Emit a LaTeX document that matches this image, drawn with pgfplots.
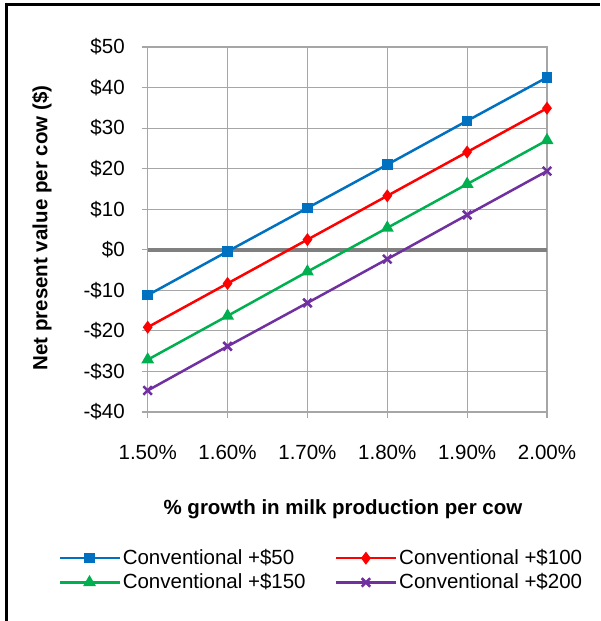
\documentclass[border=0pt]{standalone}
\usepackage{fontspec}
\setmainfont{Liberation Sans}
\usepackage{pgfplots}
\pgfplotsset{compat=1.18}
\usetikzlibrary{calc}
\definecolor{cblue}{RGB}{0,112,192}
\definecolor{cred}{RGB}{255,0,0}
\definecolor{cgreen}{RGB}{0,176,80}
\definecolor{cpurple}{RGB}{112,48,160}
\definecolor{gridgray}{RGB}{166,166,166}
\definecolor{zerogray}{RGB}{128,128,128}
\begin{document}
\fontsize{20.5}{24}\selectfont
\begin{tikzpicture}[x=1pt,y=1pt]
\begin{axis}[
  name=ax,
  scale only axis, width=399.3pt, height=365pt,
  xmin=1.5, xmax=2.0, ymin=-40, ymax=50,
  xtick={1.5,1.6,1.7,1.8,1.9,2.0},
  xticklabels={1.50\%,1.60\%,1.70\%,1.80\%,1.90\%,2.00\%},
  ytick={-40,-30,-20,-10,0,10,20,30,40,50},
  yticklabels={-\$40,-\$30,-\$20,-\$10,\$0,\$10,\$20,\$30,\$40,\$50},
  xtick pos=bottom, ytick pos=left,
  tick align=outside, major tick length=6pt,
  every tick/.style={gridgray, line width=1.2pt},
  axis line style={gridgray, line width=1.2pt},
  grid=major, major grid style={gridgray, line width=1.2pt},
  xticklabel style={yshift=-20pt},
  yticklabel style={xshift=-10pt},
  xlabel={\bfseries\% growth in milk production per cow},
  ylabel={\bfseries Net present value per cow (\$)},
  xlabel style={at={(axis description cs:0.489,-0.266)}, anchor=center},
  ylabel style={at={(axis description cs:-0.265,0.504)}, anchor=center},
  legend columns=2,
  legend cell align=left,
  legend style={at={(-0.232,-0.364)}, anchor=north west, draw=none, fill=none,
    /tikz/every even column/.append style={column sep=27pt}, row sep=2pt},
  legend image code/.code={\draw[mark repeat=2,mark phase=2,#1] plot coordinates {(0pt,0pt) (30pt,0pt) (60pt,0pt)};},
  every axis plot/.append style={line width=2.5pt},
  clip=false,
]
\draw[zerogray, line width=4pt] (axis cs:1.5,0) -- (axis cs:2.0,0);
\addplot[cblue, mark=square*, mark size=4pt] coordinates {
  (1.5,-11.2) (1.6,-0.4) (1.7,10.3) (1.8,21.0) (1.9,31.8) (2.0,42.5)};
\addlegendentry{Conventional +\$50}
\addplot[cred, mark=diamond*, mark size=4.5pt] coordinates {
  (1.5,-19.1) (1.6,-8.3) (1.7,2.5) (1.8,13.3) (1.9,24.1) (2.0,34.9)};
\addlegendentry{Conventional +\$100}
\addplot[cgreen, mark=triangle*, mark size=5pt] coordinates {
  (1.5,-27.1) (1.6,-16.3) (1.7,-5.4) (1.8,5.4) (1.9,16.2) (2.0,27.0)};
\addlegendentry{Conventional +\$150}
\addplot[cpurple, mark=x, mark size=6pt, mark options={line width=2.5pt}] coordinates {
  (1.5,-34.7) (1.6,-23.8) (1.7,-13.1) (1.8,-2.3) (1.9,8.6) (2.0,19.4)};
\addlegendentry{Conventional +\$200}
\end{axis}
\pgfresetboundingbox
\coordinate (o) at (ax.south west);
\path[use as bounding box] ($(o)+(-147.7,-209)$) rectangle ($(o)+(452.3,412)$);
\draw[line width=3pt] ($(o)+(-140.7,-209)$) -- ($(o)+(-140.7,407)$) -- ($(o)+(452.3,407)$);
\end{tikzpicture}
\end{document}
